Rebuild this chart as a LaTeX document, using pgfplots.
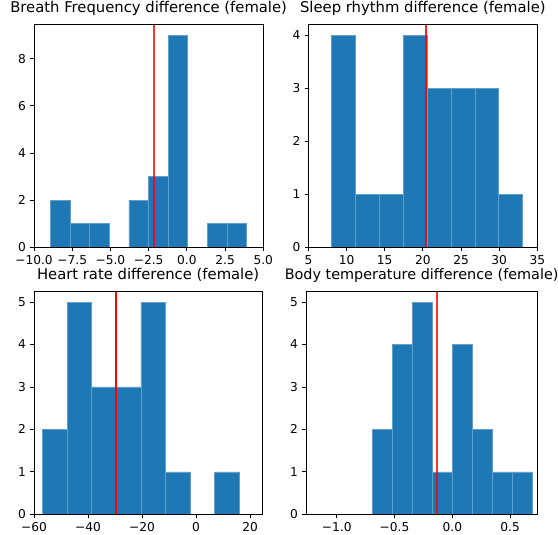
\documentclass[border=0pt]{standalone}
\usepackage{fontspec}
\setmainfont{DejaVu Sans}
\usepackage{pgfplots}
\pgfplotsset{compat=1.18}

\definecolor{barblue}{RGB}{31,119,180}
\definecolor{baredge}{RGB}{95,158,205}

\pgfplotsset{
  hist/.style={
    scale only axis,
    height=222.8pt,
    ymin=0,
    axis on top,
    axis line style={black, line width=0.9pt},
    tick style={black, line width=0.9pt},
    tick align=outside,
    major tick length=3.9pt,
    xtick pos=left, ytick pos=left,
    minor tick num=0,
    tick label style={font=\fontsize{12.2}{13}\selectfont},
    /pgf/number format/assume math mode=true,
    title style={font=\fontsize{14.8}{16}\selectfont, at={(0.5,1)}, anchor=base, yshift=6.3pt, inner sep=0pt},
    xticklabel style={inner sep=0pt, anchor=north, yshift=-4pt},
    yticklabel style={inner sep=0pt, anchor=east, xshift=-4pt},
    scaled ticks=false,
  },
  bars/.style={ybar interval, fill=barblue, draw=baredge, line width=0.6pt},
  meanline/.style={red, line width=2pt},
}

\begin{document}
\begin{tikzpicture}

% Breath frequency
\begin{axis}[hist, at={(34pt,287.7pt)}, anchor=south west, width=229.3pt,
  title={Breath Frequency difference (female)},
  xmin=-10, xmax=5, ymax=9.45,
  xtick={-10,-7.5,-5,-2.5,0,2.5,5},
  xticklabels={−10.0,−7.5,−5.0,−2.5,0.0,2.5,5.0},
  ytick={0,2,4,6,8}]
  \addplot[bars] coordinates {
    (-8.930,2) (-7.647,1) (-6.364,1) (-5.081,0) (-3.798,2)
    (-2.515,3) (-1.232,9) (0.051,0) (1.334,1) (2.617,1) (3.900,0)};
  \addplot[meanline, opacity=0.8] coordinates {(-2.12,0) (-2.12,9.45)};
\end{axis}

% Sleep rhythm
\begin{axis}[hist, at={(308.4pt,287.7pt)}, anchor=south west, width=229pt,
  title={Sleep rhythm difference (female)},
  xmin=5, xmax=35, ymax=4.2,
  xtick={5,10,15,20,25,30,35},
  ytick={0,1,2,3,4}]
  \addplot[bars] coordinates {
    (8.050,4) (11.175,1) (14.300,1) (17.425,4) (20.550,3)
    (23.675,3) (26.800,3) (29.925,1) (33.050,0)};
  \addplot[meanline, opacity=0.85] coordinates {(20.38,0) (20.38,4.2)};
\end{axis}

% Heart rate
\begin{axis}[hist, at={(34pt,20.7pt)}, anchor=south west, width=228.3pt,
  title={Heart rate difference (female)},
  xmin=-60, xmax=24.5, ymax=5.25,
  xtick={-60,-40,-20,0,20},
  xticklabels={−60,−40,−20,0,20},
  ytick={0,1,2,3,4,5}]
  \addplot[bars] coordinates {
    (-56.80,2) (-47.71,5) (-38.63,3) (-29.54,3) (-20.45,5)
    (-11.36,1) (-2.28,0) (6.81,1) (15.90,0)};
  \addplot[meanline] coordinates {(-29.5,0) (-29.5,5.25)};
\end{axis}

% Body temperature
\begin{axis}[hist, at={(306pt,20.7pt)}, anchor=south west, width=231.3pt,
  title={Body temperature difference (female)},
  title style={font=\fontsize{14.4}{16}\selectfont},
  xmin=-1.266, xmax=0.735, ymax=5.25,
  xtick={-1,-0.5,0,0.5},
  xticklabels={−1.0,−0.5,0.0,0.5},
  ytick={0,1,2,3,4,5}]
  \addplot[bars] coordinates {
    (-0.6950,2) (-0.5219,4) (-0.3488,5) (-0.1756,1) (-0.0025,4)
    (0.1706,2) (0.3438,1) (0.5169,1) (0.6900,0)};
  \addplot[meanline, opacity=0.8] coordinates {(-0.13,0) (-0.13,5.25)};
\end{axis}

\pgfresetboundingbox
\path[use as bounding box] (0,0) rectangle (558pt,535pt);
\end{tikzpicture}
\end{document}
